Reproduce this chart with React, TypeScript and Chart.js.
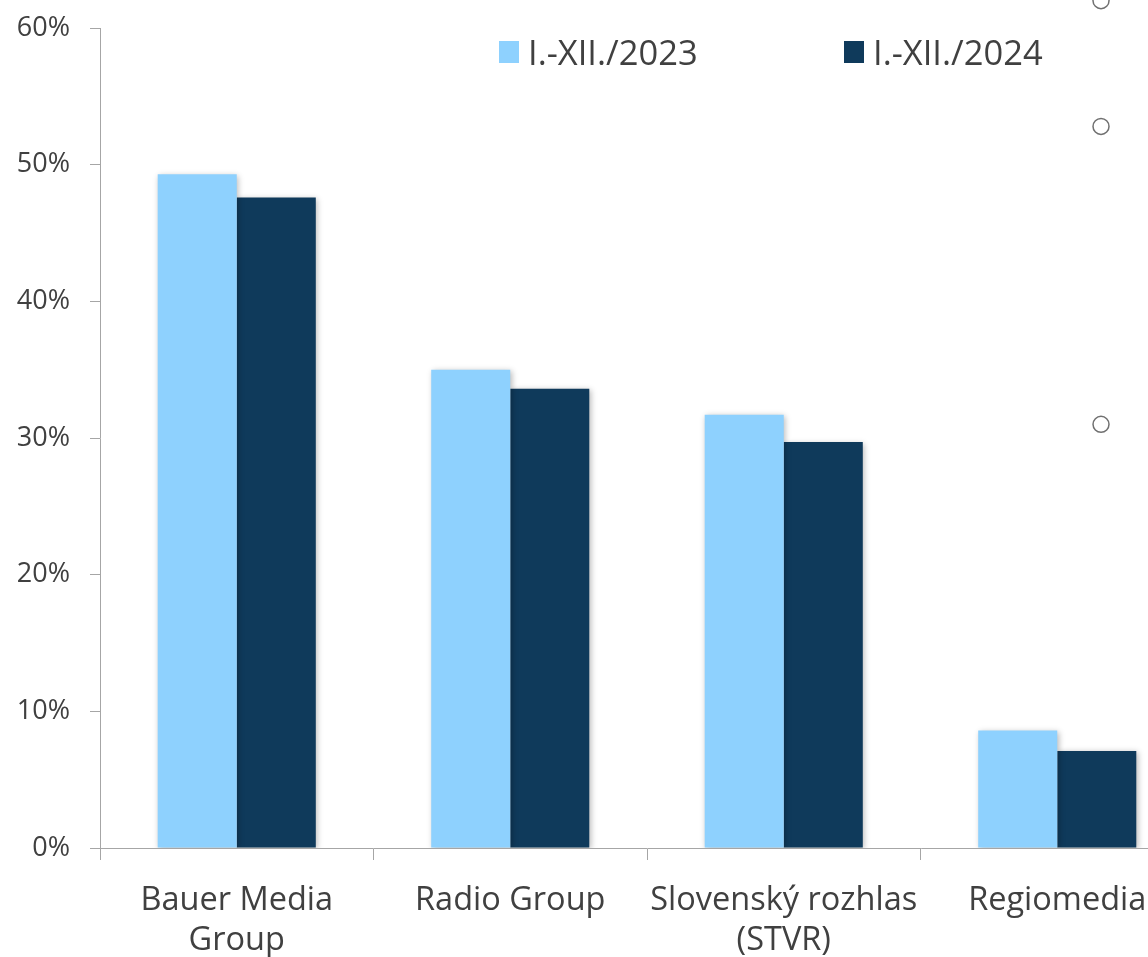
import React, { useEffect, useRef } from "react";
import { Chart, registerables } from "chart.js";

Chart.register(...registerables);

const categories: (string | string[])[] = [
  ["Bauer Media", "Group"],
  "Radio Group",
  ["Slovenský rozhlas", "(STVR)"],
  "Regiomedia",
];
const seriesNames = ["I.-XII./2023", "I.-XII./2024"];
const values2023 = [49.3, 35.0, 31.7, 8.6];
const values2024 = [47.6, 33.6, 29.7, 7.1];
const markerX = [3.16, 3.16, 3.16];
const markerY = [62.0, 52.8, 31.0];
const yTicks = [0, 10, 20, 30, 40, 50, 60];

const LIGHT = "#8ed1fe";
const DARK = "#0f3a5b";
const TEXT = "#404040";
const AXIS = "#a6a6a6";
const FONT = "'Open Sans', sans-serif";

const shadowPlugin = {
  id: "barShadow",
  beforeDatasetDraw(chart: any) {
    const ctx = chart.ctx;
    ctx.save();
    ctx.shadowColor = "rgba(0,0,0,0.28)";
    ctx.shadowBlur = 6;
    ctx.shadowOffsetX = 1.5;
    ctx.shadowOffsetY = 1.5;
  },
  afterDatasetDraw(chart: any) {
    chart.ctx.restore();
  },
};

const markerPlugin = {
  id: "markers",
  afterDatasetsDraw(chart: any) {
    const ctx = chart.ctx;
    const xs = chart.scales.x2;
    const ys = chart.scales.y;
    ctx.save();
    ctx.strokeStyle = "#707070";
    ctx.fillStyle = "#ffffff";
    ctx.lineWidth = 1.5;
    markerX.forEach((xv, i) => {
      const px = xs.getPixelForValue(xv);
      const py = ys.getPixelForValue(markerY[i]);
      ctx.beginPath();
      ctx.arc(px, py, 8, 0, Math.PI * 2);
      ctx.fill();
      ctx.stroke();
    });
    ctx.restore();
  },
};

export default function App() {
  const ref = useRef<HTMLCanvasElement>(null);
  useEffect(() => {
    if (!ref.current) return;
    const chart = new Chart(ref.current, {
      type: "bar",
      data: {
        labels: categories,
        datasets: [
          {
            label: seriesNames[0],
            data: values2023,
            backgroundColor: LIGHT,
            categoryPercentage: 0.578,
            barPercentage: 1,
          },
          {
            label: seriesNames[1],
            data: values2024,
            backgroundColor: DARK,
            categoryPercentage: 0.578,
            barPercentage: 1,
          },
        ],
      },
      plugins: [shadowPlugin, markerPlugin],
      options: {
        responsive: false,
        animation: false,
        layout: { padding: { top: 28, right: 6, left: 0, bottom: 0 } },
        plugins: {
          legend: { display: false },
          tooltip: { enabled: false },
        },
        scales: {
          x: {
            offset: true,
            grid: {
              display: true,
              offset: true,
              drawOnChartArea: false,
              drawTicks: true,
              tickLength: 12,
              color: AXIS,
            },
            border: { display: true, color: AXIS, width: 1 },
            ticks: {
              autoSkip: false,
              maxRotation: 0,
              minRotation: 0,
              color: TEXT,
              padding: 20,
              font: { family: FONT, size: 32.5, lineHeight: 1.25 },
            },
            afterFit: (s: any) => {
              s.height = 152;
              s.paddingLeft = 0;
              s.paddingRight = 0;
            },
          },
          x2: {
            type: "linear",
            display: false,
            offset: false,
            grid: { offset: false },
            min: -0.5,
            max: 3.5,
          },
          y: {
            min: 0,
            max: 60,
            afterBuildTicks: (s: any) => {
              s.ticks = yTicks.map((v) => ({ value: v }));
            },
            grid: {
              display: true,
              drawOnChartArea: false,
              drawTicks: true,
              tickLength: 10,
              color: AXIS,
            },
            border: { display: true, color: AXIS, width: 1 },
            ticks: {
              color: TEXT,
              padding: 20,
              font: { family: FONT, size: 27 },
              callback: (v: any) => `${v}%`,
            },
            afterFit: (s: any) => {
              s.width = 100;
              s.paddingTop = 0;
              s.paddingBottom = 0;
            },
          },
        },
      },
    });
    return () => chart.destroy();
  }, []);

  const legendItem = (left: number, color: string, text: string) => (
    <div
      style={{
        position: "absolute",
        left,
        top: 32,
        display: "flex",
        alignItems: "center",
        fontFamily: FONT,
        fontSize: 34.5,
        color: TEXT,
        lineHeight: "40px",
        whiteSpace: "nowrap",
      }}
    >
      <span
        style={{
          display: "inline-block",
          width: 20,
          height: 22,
          background: color,
          marginRight: 9,
        }}
      />
      <span>{text}</span>
    </div>
  );

  return (
    <div
      style={{
        position: "absolute",
        left: 0,
        top: 0,
        width: 1148,
        height: 957,
        overflow: "hidden",
        background: "#fff",
      }}
    >
      <canvas ref={ref} width={1200} height={1000} style={{ display: "block" }} />
      {legendItem(499, LIGHT, seriesNames[0])}
      {legendItem(844, DARK, seriesNames[1])}
    </div>
  );
}
